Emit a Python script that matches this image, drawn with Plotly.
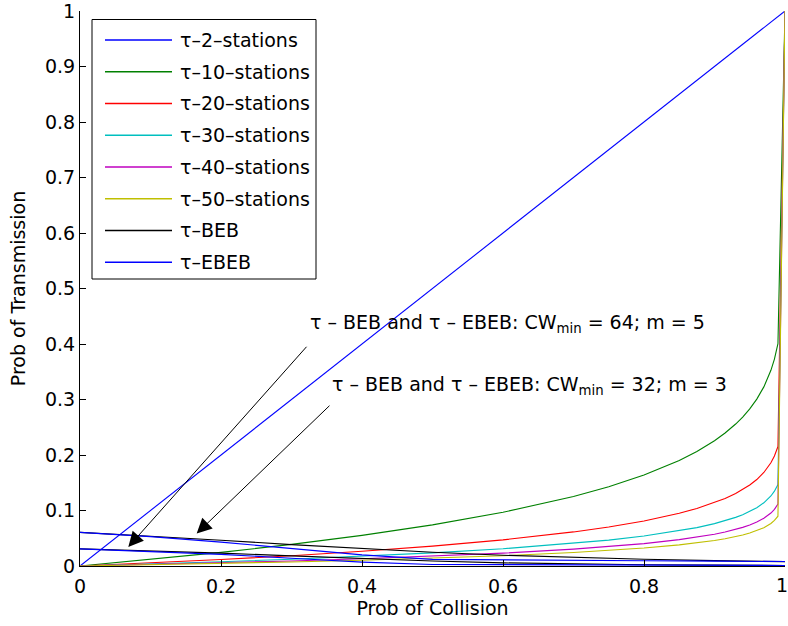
import plotly.graph_objects as go

# ---------------- data ----------------
p_st = [0, 0.1, 0.2, 0.3, 0.4, 0.5, 0.6, 0.7, 0.75, 0.8, 0.85, 0.875, 0.9, 0.915, 0.93, 0.94,
        0.95, 0.96, 0.97, 0.98, 0.985, 0.99, 1.0]
tau_2 = [0, 0.1, 0.2, 0.3, 0.4, 0.5, 0.6, 0.7, 0.75, 0.8, 0.85, 0.875, 0.9, 0.915, 0.93, 0.94,
         0.95, 0.96, 0.97, 0.98, 0.985, 0.99, 1.0]
tau_10 = [0, 0.0116, 0.0245, 0.0389, 0.0552, 0.0741, 0.0968, 0.1252, 0.1428, 0.1638, 0.1901, 0.2063,
          0.2257, 0.2396, 0.2558, 0.2684, 0.2831, 0.3007, 0.3227, 0.3526, 0.3729, 0.4005, 1.0]
tau_20 = [0, 0.0055, 0.0117, 0.0186, 0.0265, 0.0358, 0.0471, 0.0614, 0.0704, 0.0812, 0.0950, 0.1037,
          0.1141, 0.1217, 0.1306, 0.1376, 0.1459, 0.1558, 0.1685, 0.1861, 0.1983, 0.2152, 1.0]
tau_30 = [0, 0.0036, 0.0077, 0.0122, 0.0175, 0.0236, 0.0311, 0.0407, 0.0467, 0.0540, 0.0633, 0.0692,
          0.0763, 0.0815, 0.0876, 0.0925, 0.0982, 0.1051, 0.1139, 0.1262, 0.1348, 0.1468, 1.0]
tau_40 = [0, 0.0027, 0.0057, 0.0091, 0.0130, 0.0176, 0.0232, 0.0304, 0.0349, 0.0404, 0.0475, 0.0519,
          0.0573, 0.0613, 0.0659, 0.0696, 0.0739, 0.0792, 0.0860, 0.0954, 0.1021, 0.1114, 1.0]
tau_50 = [0, 0.0022, 0.0045, 0.0073, 0.0104, 0.0141, 0.0185, 0.0243, 0.0279, 0.0323, 0.0380, 0.0416,
          0.0459, 0.0491, 0.0528, 0.0558, 0.0593, 0.0636, 0.0691, 0.0767, 0.0821, 0.0897, 1.0]

p_beb = [0, 0.1, 0.2, 0.3, 0.4, 0.5, 0.6, 0.7, 0.8, 0.9, 1.0]
beb_32 = [0.0606, 0.0541, 0.0465, 0.0386, 0.0311, 0.0247, 0.0194, 0.0153, 0.0121, 0.0097, 0.0078]
beb_64 = [0.0308, 0.0274, 0.0232, 0.0183, 0.0132, 0.0089, 0.0057, 0.0036, 0.0023, 0.0015, 0.0010]
ebeb_32 = [0.0606, 0.0530, 0.0430, 0.0320, 0.0200, 0.0120, 0.0108, 0.0102, 0.0095, 0.0088, 0.0080]
ebeb_64 = [0.0308, 0.0265, 0.0210, 0.0140, 0.0070, 0.0028, 0.0024, 0.0022, 0.0018, 0.0014, 0.0010]

legend_labels = ["τ–2–stations", "τ–10–stations", "τ–20–stations", "τ–30–stations",
                 "τ–40–stations", "τ–50–stations", "τ–BEB", "τ–EBEB"]
colors = ["#0000ff", "#008000", "#ff0000", "#00bfbf", "#bf00bf", "#bfbf00", "#000000", "#0000ff"]

x_ticks = [0, 0.2, 0.4, 0.6, 0.8, 1]
x_ticklabels = ["0", "0.2", "0.4", "0.6", "0.8", "1"]
y_ticks = [0, 0.1, 0.2, 0.3, 0.4, 0.5, 0.6, 0.7, 0.8, 0.9, 1]
y_ticklabels = ["0", "0.1", "0.2", "0.3", "0.4", "0.5", "0.6", "0.7", "0.8", "0.9", "1"]

note_64 = "τ – BEB and τ – EBEB: CW<sub>min</sub> = 64; m = 5"
note_32 = "τ – BEB and τ – EBEB: CW<sub>min</sub> = 32; m = 3"

FONT = "DejaVu Sans, Liberation Sans, Arial, sans-serif"
FS = 19
LW = 1.1

fig = go.Figure()
station_series = [tau_2, tau_10, tau_20, tau_30, tau_40, tau_50]
for i, ys in enumerate(station_series):
    fig.add_trace(go.Scatter(x=p_st, y=ys, mode="lines", name=legend_labels[i],
                             line=dict(color=colors[i], width=LW), showlegend=False))
for ys in (beb_32, beb_64):
    fig.add_trace(go.Scatter(x=p_beb, y=ys, mode="lines", name=legend_labels[6],
                             line=dict(color=colors[6], width=LW), showlegend=False))
for ys in (ebeb_32, ebeb_64):
    fig.add_trace(go.Scatter(x=p_beb, y=ys, mode="lines", name=legend_labels[7],
                             line=dict(color=colors[7], width=LW), showlegend=False))

L, R, T, B = 80, 3, 11, 60
W, H = 788, 626
PW, PH = W - L - R, H - T - B

def px(xp):
    return (xp - L) / PW

def py(yp):
    return (H - B - yp) / PH

shapes = []
annotations = []
# manual legend box
shapes.append(dict(type="rect", xref="paper", yref="paper",
                   x0=px(92), x1=px(316), y0=py(279), y1=py(19.5),
                   line=dict(color="black", width=1), fillcolor="white", layer="above"))
for k, lab in enumerate(legend_labels):
    yc = 40 + 31.75 * k
    shapes.append(dict(type="line", xref="paper", yref="paper",
                       x0=px(105), x1=px(172), y0=py(yc), y1=py(yc),
                       line=dict(color=colors[k], width=1.3), layer="above"))
    annotations.append(dict(xref="paper", yref="paper", x=px(178), y=py(yc),
                            xanchor="left", yanchor="middle", text=lab, showarrow=False,
                            font=dict(family=FONT, size=FS, color="black")))

# arrows
annotations.append(dict(x=0.0685, y=0.0342, ax=0.3232, ay=0.3977, xref="x", yref="y",
                        axref="x", ayref="y", text="", showarrow=True, arrowhead=2,
                        arrowsize=3, arrowwidth=1, arrowcolor="black"))
annotations.append(dict(x=0.1655, y=0.0584, ax=0.356, ay=0.2914, xref="x", yref="y",
                        axref="x", ayref="y", text="", showarrow=True, arrowhead=2,
                        arrowsize=3, arrowwidth=1, arrowcolor="black"))
# notes
annotations.append(dict(x=0.3234, y=0.4396, xref="x", yref="y", xanchor="left", yanchor="middle",
                        text=note_64, showarrow=False, yshift=-1,
                        font=dict(family=FONT, size=FS, color="black")))
annotations.append(dict(x=0.3546, y=0.330, xref="x", yref="y", xanchor="left", yanchor="middle",
                        text=note_32, showarrow=False, yshift=-3,
                        font=dict(family=FONT, size=FS, color="black")))

# last x tick label placed so it stays inside the page
x_tick_text_shown = x_ticklabels[:-1] + [""]
annotations.append(dict(x=x_ticks[-1], y=0, xref="x", yref="paper", xanchor="right", yanchor="top",
                        text=x_ticklabels[-1], showarrow=False, xshift=5, yshift=-6,
                        font=dict(family=FONT, size=FS, color="black")))

fig.update_layout(
    width=W, height=H,
    margin=dict(l=L, r=R, t=T, b=B, pad=0, autoexpand=False),
    paper_bgcolor="white", plot_bgcolor="white",
    font=dict(family=FONT, size=FS, color="black"),
    showlegend=False,
    shapes=shapes, annotations=annotations,
    xaxis=dict(range=[0, 1], tickvals=x_ticks, ticktext=x_tick_text_shown, automargin=False,
               ticks="inside", ticklen=6, tickcolor="black", showline=True, linecolor="black",
               linewidth=1, mirror=False, showgrid=False, zeroline=False, ticklabelstandoff=3,
               ticklabeloverflow="allow",
               title=dict(text="Prob of Collision", font=dict(size=FS), standoff=4),
               tickfont=dict(size=FS)),
    yaxis=dict(range=[0, 1], tickvals=y_ticks, ticktext=y_ticklabels, automargin=False,
               ticks="inside", ticklen=6, tickcolor="black", showline=True, linecolor="black",
               linewidth=1, mirror=False, showgrid=False, zeroline=False,
               ticklabeloverflow="allow",
               title=dict(text="Prob of Transmission", font=dict(size=FS), standoff=14),
               tickfont=dict(size=FS)),
)

fig.write_html("out.html", config={"displayModeBar": False},
               post_script="document.body.style.margin='0';document.body.style.overflow='hidden';")
